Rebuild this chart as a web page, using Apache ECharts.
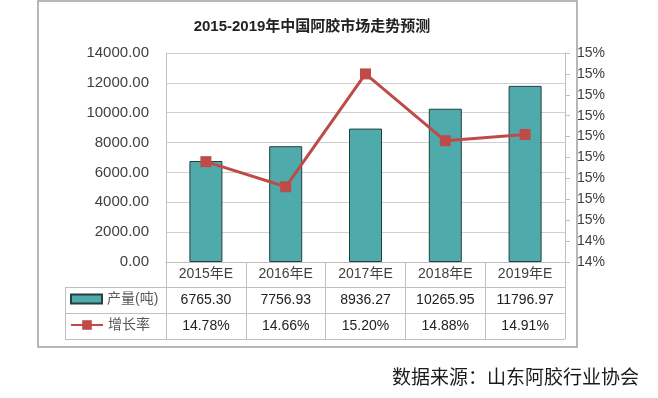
<!DOCTYPE html>
<html lang="zh">
<head>
  <meta charset="UTF-8">
  <title>2015-2019年中国阿胶市场走势预测</title>
  <style>
    * { margin: 0; padding: 0; }
    body { background: #fff; overflow: hidden; }
    #chart { width: 658px; height: 398px; }
  </style>
</head>
<body>
  <div id="chart"></div>
  <script src="https://cdn.jsdelivr.net/npm/echarts@6/dist/echarts.min.js"></script>
  <script>
    const years = ['2015年E', '2016年E', '2017年E', '2018年E', '2019年E'];
    const output = [6765.30, 7756.93, 8936.27, 10265.95, 11796.97];
    const growth = [14.78, 14.66, 15.20, 14.88, 14.91];

    const FONT = '"Liberation Sans", "Noto Sans CJK SC", sans-serif';
    const LINE_GRAY = '#bfbfbf';
    const TEXT = '#404040';

    const chart = echarts.init(document.getElementById('chart'));

    const tableRow = (data, offset) => ({
      type: 'category',
      data: data,
      position: 'bottom',
      offset: offset,
      axisLine: { show: false },
      axisTick: { show: false },
      axisLabel: { margin: 5, fontSize: 14, color: '#222', fontFamily: FONT }
    });

    chart.setOption({
      animation: false,
      title: {
        text: '2015-2019年中国阿胶市场走势预测',
        left: 307,
        top: 14,
        textAlign: 'center',
        textStyle: { fontSize: 15, fontWeight: 'bold', color: '#222', fontFamily: FONT }
      },
      grid: { left: 166, right: 93, top: 53, bottom: 136, containLabel: false, outerBoundsMode: 'none' },
      legend: [
        {
          data: [{ name: '产量(吨)', icon: 'rect' }], left: 70, top: 292, padding: 0,
          itemWidth: 31, itemHeight: 9, itemGap: 4,
          textStyle: { fontSize: 14, color: '#595959', fontFamily: FONT }
        },
        {
          data: ['增长率'], left: 70, top: 318, padding: 0,
          itemWidth: 32, itemHeight: 12,
          textStyle: { fontSize: 14, color: '#595959', fontFamily: FONT }
        }
      ],
      xAxis: [
        {
          type: 'category',
          data: years,
          position: 'bottom',
          axisLine: { show: true, lineStyle: { color: LINE_GRAY } },
          axisTick: { show: true, length: 77, lineStyle: { color: LINE_GRAY } },
          axisLabel: { margin: 5, fontSize: 14, color: TEXT, fontFamily: FONT }
        },
        tableRow(output.map(v => v.toFixed(2)), 26),
        tableRow(growth.map(v => v.toFixed(2) + '%'), 52)
      ],
      yAxis: [
        {
          type: 'value',
          min: 0, max: 14000, interval: 2000,
          axisLine: { show: true, lineStyle: { color: LINE_GRAY } },
          axisTick: { show: false },
          splitLine: { lineStyle: { color: '#d0d0d0' } },
          axisLabel: { margin: 17, fontSize: 15, color: TEXT, fontFamily: FONT,
            formatter: v => v.toFixed(2) }
        },
        {
          type: 'value',
          position: 'right',
          min: 14.3, max: 15.3, interval: 0.1,
          axisLine: { show: true, lineStyle: { color: LINE_GRAY } },
          axisTick: { show: true, length: 5, lineStyle: { color: LINE_GRAY } },
          splitLine: { show: false },
          axisLabel: { margin: 12, fontSize: 14, color: TEXT, fontFamily: FONT,
            formatter: v => Math.round(v) + '%' }
        }
      ],
      series: [
        {
          name: '产量(吨)',
          type: 'bar',
          xAxisIndex: 0, yAxisIndex: 0,
          barWidth: 33,
          data: output,
          itemStyle: { color: '#4fabab', borderColor: '#243f3f', borderWidth: 1 }
        },
        {
          name: '增长率',
          type: 'line',
          xAxisIndex: 0, yAxisIndex: 1,
          data: growth,
          symbol: 'rect',
          symbolSize: 11,
          lineStyle: { color: '#be4b48', width: 3 },
          itemStyle: { color: '#be4b48' },
          z: 5
        }
      ],
      graphic: [
        // outer frame
        { type: 'rect', shape: { x: 38, y: 1, width: 539, height: 346 },
          style: { fill: 'none', stroke: '#a0a0a0', lineWidth: 1.5 }, silent: true },
        // table rules
        { type: 'line', shape: { x1: 65, y1: 287.5, x2: 565, y2: 287.5 }, style: { stroke: LINE_GRAY, lineWidth: 1 } },
        { type: 'line', shape: { x1: 65, y1: 313.5, x2: 565, y2: 313.5 }, style: { stroke: LINE_GRAY, lineWidth: 1 } },
        { type: 'line', shape: { x1: 65, y1: 339.5, x2: 565, y2: 339.5 }, style: { stroke: LINE_GRAY, lineWidth: 1 } },
        { type: 'line', shape: { x1: 65.5, y1: 287, x2: 65.5, y2: 340 }, style: { stroke: LINE_GRAY, lineWidth: 1 } },
        // source note
        { type: 'text', left: 392, top: 367,
          style: { text: '数据来源：山东阿胶行业协会', fontSize: 19, fill: '#1a1a1a',
            fontFamily: '"Noto Sans CJK SC", sans-serif' } }
      ]
    });
  </script>
</body>
</html>
